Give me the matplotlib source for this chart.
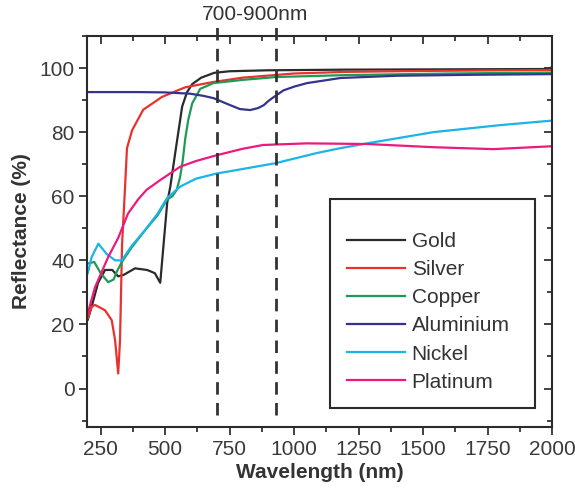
import matplotlib
matplotlib.use("Agg")
import matplotlib.pyplot as plt
from matplotlib.ticker import MultipleLocator
from matplotlib.patches import Rectangle

plt.rcParams['font.family'] = ['Liberation Sans', 'DejaVu Sans']

# ---- data ----
gold_x = [200, 220, 240, 267, 295, 318, 340, 383, 430, 460, 481, 495, 508, 520, 540, 566, 585, 605, 640, 690, 750, 900, 1200, 1600, 1985, 2000]
gold_y = [21.5, 27, 33, 37, 37, 35, 35.5, 37.5, 37, 36, 33, 46, 58, 63, 74, 88, 92.5, 95, 97, 98.5, 99, 99.3, 99.5, 99.6, 99.7, 100.3]

silver_x = [200, 215, 228, 267, 293, 306, 318, 325, 333, 344, 352, 372, 415, 488, 578, 683, 800, 1000, 1200, 1500, 2000]
silver_y = [22, 25.5, 26.1, 24.4, 21.3, 15, 4.7, 15, 45, 62, 75, 80.6, 87, 91, 94, 95.6, 97, 98.3, 98.8, 99.1, 99.4]

copper_x = [200, 225, 250, 279, 300, 312, 332, 370, 422, 470, 508, 528, 545, 558, 568, 578, 590, 605, 636, 687, 800, 930, 1200, 1600, 2000]
copper_y = [39, 39.5, 36, 33.2, 34, 36.4, 39.5, 44, 49.4, 54, 59, 60, 62, 66, 71, 78, 84, 89, 93.5, 95.3, 96.3, 97.2, 97.8, 98.3, 98.6]

alu_x = [200, 400, 500, 597, 650, 688, 720, 753, 790, 830, 860, 882, 900, 915, 958, 1000, 1050, 1180, 1400, 1700, 2000]
alu_y = [92.5, 92.5, 92.4, 92, 91.3, 90.6, 89.5, 88.4, 87.2, 86.9, 87.5, 88.4, 89.7, 90.6, 93, 94.2, 95.3, 96.9, 97.6, 97.9, 98.1]

nickel_x = [200, 215, 241, 273, 306, 332, 370, 422, 470, 508, 558, 620, 700, 765, 927, 1089, 1179, 1283, 1540, 1800, 2000]
nickel_y = [36, 41, 45.2, 42, 40, 40, 44.5, 49.4, 54.5, 59.5, 63, 65.5, 67.1, 68, 70.3, 73.5, 75, 76.5, 80, 82.2, 83.6]

plat_x = [200, 228, 279, 318, 356, 395, 428, 480, 558, 620, 700, 800, 880, 1050, 1283, 1540, 1773, 2000]
plat_y = [23.5, 31.6, 41, 47, 54.6, 59, 62, 65, 69.2, 71, 72.8, 74.8, 76, 76.5, 76.3, 75.3, 74.7, 75.6]

series_names = ["Gold", "Silver", "Copper", "Aluminium", "Nickel", "Platinum"]
series_colors = ["#2b2b2b", "#e8322c", "#1f9a55", "#34348c", "#1cb4e6", "#ec1a7d"]
band_edges = [700, 930]
band_label = "700-900nm"

xticks = [250, 500, 750, 1000, 1250, 1500, 1750, 2000]
yticks = [0, 20, 40, 60, 80, 100]

# ---- figure ----
fig = plt.figure(figsize=(5.75, 4.94), dpi=100)
ax = fig.add_axes([87/575, 1 - 427/494, (552-87)/575, (427-36)/494])

xs = [gold_x, silver_x, copper_x, alu_x, nickel_x, plat_x]
ys = [gold_y, silver_y, copper_y, alu_y, nickel_y, plat_y]
for x, y, n, c in zip(xs, ys, series_names, series_colors):
    ax.plot(x, y, color=c, lw=1.6, label=n, solid_joinstyle='round')

for b in band_edges:
    ax.axvline(b, ymin=0.03, ymax=1.023, color="#333333", lw=2.0,
               dashes=(4.5, 3), clip_on=False, zorder=5)

ax.text(sum(band_edges) / 2 + 35, 1.056, band_label, transform=ax.get_xaxis_transform(),
        ha='center', va='center', fontsize=15, color="#333333")

ax.set_xlim(197, 2000)
ax.set_ylim(-12, 110)
ax.set_xticks(xticks)
ax.set_yticks(yticks)
ax.xaxis.set_minor_locator(MultipleLocator(125))
ax.yaxis.set_minor_locator(MultipleLocator(10))

tc = "#333333"
ax.tick_params(axis='both', which='major', labelsize=15, colors=tc, labelcolor="#3a3a3a", width=1.3)
ax.tick_params(axis='both', which='minor', colors=tc, width=1.3)
ax.tick_params(axis='x', which='major', direction='out', length=6, top=True, pad=3)
ax.tick_params(axis='x', which='minor', direction='out', length=3.5, top=True)
ax.tick_params(axis='y', which='major', direction='out', length=6, right=True, pad=3)
ax.tick_params(axis='y', which='minor', direction='out', length=3.5, right=True)
# top and right ticks point inward
for t in ax.xaxis.get_major_ticks() + ax.xaxis.get_minor_ticks():
    t.tick2line.set_marker(matplotlib.lines.TICKDOWN)
for t in ax.yaxis.get_major_ticks() + ax.yaxis.get_minor_ticks():
    t.tick2line.set_marker(matplotlib.lines.TICKLEFT)

for s in ax.spines.values():
    s.set_linewidth(1.5)
    s.set_color("#2b2b2b")

ax.set_xlabel("Wavelength (nm)", fontsize=15, fontweight='bold', color="#333333", labelpad=3)
ax.set_ylabel("Reflectance (%)", fontsize=15, fontweight='bold', color="#333333", labelpad=6)

# legend box
ax.add_patch(Rectangle((0.5226, 0.0486), 0.9634 - 0.5226, 0.583 - 0.0486,
                       transform=ax.transAxes, fill=False, lw=1.5, ec="#2b2b2b", zorder=6))
leg = ax.legend(loc='upper left', bbox_to_anchor=(0.559, 0.499), frameon=False,
                fontsize=15, handlelength=2.78, handletextpad=0.33, labelspacing=0.44,
                borderaxespad=0, borderpad=0)
for t in leg.get_texts():
    t.set_color("#333333")

fig.savefig("out.png", dpi=100)
